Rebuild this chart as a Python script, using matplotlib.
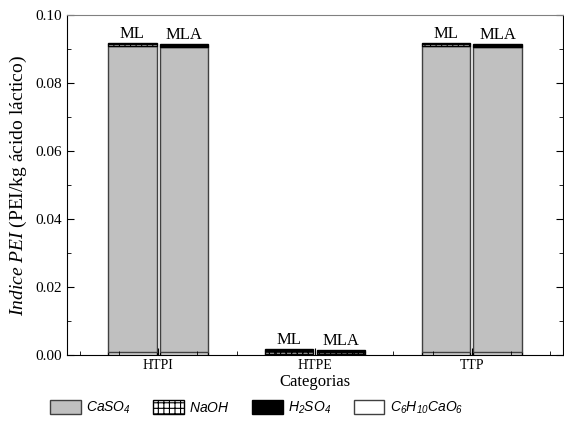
import matplotlib
matplotlib.use("Agg")
import matplotlib.pyplot as plt
import numpy as np
from matplotlib.patches import Patch
from matplotlib.ticker import MultipleLocator

plt.rcParams['font.family'] = ['Liberation Serif']
plt.rcParams['mathtext.fontset'] = 'custom'
plt.rcParams['mathtext.rm'] = 'Liberation Serif'
plt.rcParams['mathtext.it'] = 'Liberation Serif:italic'
plt.rcParams['mathtext.sf'] = 'Liberation Sans:italic'
plt.rcParams['hatch.linewidth'] = 0.8

categories = ["HTPI", "HTPE", "TTP"]
scenarios = ["ML", "MLA"]
components = ["CaSO4", "NaOH", "H2SO4", "C6H10CaO6"]
legend_labels = [r"$\mathsf{CaSO_4}$", r"$\mathsf{NaOH}$", r"$\mathsf{H_2SO_4}$", r"$\mathsf{C_6H_{10}CaO_6}$"]

# values [category][scenario]
c6h10cao6 = {"ML": [0.0008, 0.0003, 0.0008], "MLA": [0.0008, 0.0002, 0.0008]}
caso4 = {"ML": [0.0900, 0.0001, 0.0900], "MLA": [0.0897, 0.0001, 0.0897]}
naoh = {"ML": [0.0006, 0.0008, 0.0006], "MLA": [0.0004, 0.0005, 0.0004]}
h2so4 = {"ML": [0.0005, 0.0006, 0.0005], "MLA": [0.0006, 0.0006, 0.0006]}

fig = plt.figure(figsize=(5.64, 4.26), dpi=100)
ax = fig.add_axes([0.119, 0.1667, 0.879, 0.798])

x = np.arange(1, len(categories) + 1)
width = 0.31
offsets = {"ML": -0.165, "MLA": 0.165}

for sc in scenarios:
    pos = x + offsets[sc]
    b0 = np.zeros(len(categories))
    v = np.array(c6h10cao6[sc])
    ax.bar(pos, v, width, bottom=b0, color='white', edgecolor='black', linewidth=1.0)
    b0 = b0 + v
    v = np.array(caso4[sc])
    ax.bar(pos, v, width, bottom=b0, color='#c0c0c0', edgecolor='#404040', linewidth=1.0)
    b0 = b0 + v
    v = np.array(naoh[sc])
    ax.bar(pos, v, width, bottom=b0, color='white', edgecolor='black', hatch='+++', linewidth=1.0)
    b0 = b0 + v
    v = np.array(h2so4[sc])
    ax.bar(pos, v, width, bottom=b0, color='black', edgecolor='black', linewidth=1.0)
    b0 = b0 + v
    for p, t in zip(pos, b0):
        ax.text(p, t + 0.0003, sc, ha='center', va='bottom', fontsize=12)

ax.set_xlim(0.42, 3.58)
ax.set_ylim(0, 0.10)
ax.set_xticks(x)
ax.set_xticklabels(categories, fontsize=10)
ax.xaxis.set_minor_locator(MultipleLocator(0.25))
ax.yaxis.set_major_locator(MultipleLocator(0.02))
ax.yaxis.set_minor_locator(MultipleLocator(0.01))
ax.yaxis.set_major_formatter(matplotlib.ticker.FormatStrFormatter('%.2f'))
ax.tick_params(axis='both', which='both', direction='in')
ax.tick_params(axis='y', labelsize=11)
ax.tick_params(axis='x', labelsize=10, pad=3)
ax.tick_params(axis='y', which='both', right=True)
ax.tick_params(which='major', length=5)
ax.tick_params(which='minor', length=3)
ax.spines['top'].set_color('#808080')
ax.set_xlabel("Categorias", fontsize=12, labelpad=1)
ax.set_ylabel(r"$\mathit{Indice\ PEI}$ (PEI/kg ácido láctico)", fontsize=14, labelpad=5)

handles = [
    Patch(facecolor='#c0c0c0', edgecolor='#404040', label=legend_labels[0]),
    Patch(facecolor='white', edgecolor='black', hatch='+++', label=legend_labels[1]),
    Patch(facecolor='black', edgecolor='black', label=legend_labels[2]),
    Patch(facecolor='white', edgecolor='#404040', label=legend_labels[3]),
]
fig.legend(handles=handles, loc='center', bbox_to_anchor=(0.455, 0.042), ncol=4,
           frameon=False, fontsize=10, handlelength=2.2, handleheight=1.2,
           columnspacing=1.6, handletextpad=0.4)

fig.savefig("out.png", dpi=100)
